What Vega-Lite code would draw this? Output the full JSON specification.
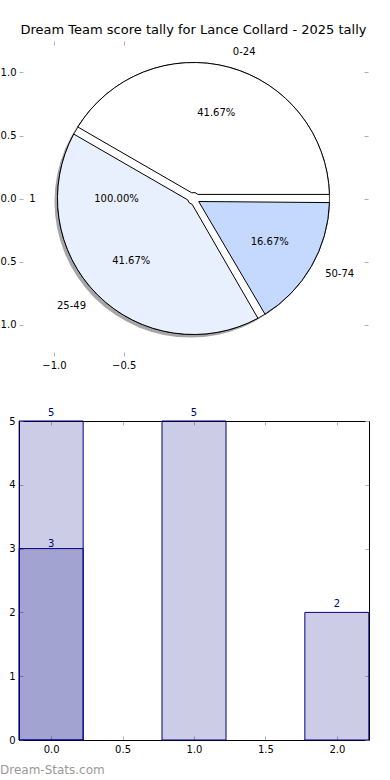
{
  "$schema": "https://vega.github.io/schema/vega-lite/v6.json",
  "background": "white",
  "padding": {"left": 0, "top": 23, "right": 0, "bottom": 0},
  "spacing": 38,
  "datasets": {
    "pie": [
      {"band": "0-24", "count": 5, "pct": "41.67%"},
      {"band": "25-49", "count": 5, "pct": "41.67%"},
      {"band": "50-74", "count": 2, "pct": "16.67%"}
    ],
    "whole": [
      {"label": "1", "value": 1, "pct": "100.00%"}
    ],
    "bars": [
      {"series": "a", "x": 0, "count": 5},
      {"series": "a", "x": 1, "count": 5},
      {"series": "a", "x": 2, "count": 2},
      {"series": "b", "x": 0, "count": 3}
    ]
  },
  "vconcat": [
    {
      "width": 349,
      "height": 315,
      "title": {
        "text": "Dream Team score tally for Lance Collard - 2025 tally",
        "fontSize": 13,
        "fontWeight": "normal",
        "font": "DejaVu Sans",
        "color": "black",
        "anchor": "middle",
        "frame": "group",
        "offset": 4
      },
      "layer": [
        {
          "data": {"values": [{}]},
          "mark": {"type": "point", "opacity": 0},
          "encoding": {
            "x": {"datum": 0, "type": "quantitative",
              "scale": {"domain": [-1.25, 1.25], "nice": false, "zero": false},
              "axis": {"orient": "bottom", "values": [-1, -0.5], "format": ".1f", "domain": false, "title": null}},
            "y": {"datum": 0, "type": "quantitative",
              "scale": {"domain": [-1.25, 1.25], "nice": false, "zero": false},
              "axis": {"orient": "left", "values": [-1, -0.5, 0, 0.5, 1], "labelExpr": "format(abs(datum.value), '.1f')", "labelPadding": 7, "domain": false, "title": null}}
          }
        },
        {
          "data": {"values": [{}]},
          "mark": {"type": "point", "opacity": 0},
          "encoding": {
            "x": {"datum": 0, "type": "quantitative",
              "axis": {"orient": "top", "values": [-1, -0.5], "labels": false, "domain": false, "title": null}},
            "y": {"datum": 0, "type": "quantitative",
              "axis": {"orient": "right", "values": [-1, -0.5, 0, 0.5, 1], "labels": false, "domain": false, "title": null}}
          }
        },
        {
          "data": {"name": "whole"},
          "encoding": {
            "theta": {"field": "value", "type": "quantitative", "stack": true, "scale": {"range": [1.5708, -4.7124]}}
          },
          "layer": [
            {"mark": {"type": "arc", "outerRadius": 136, "fill": "#4d4d4d", "fillOpacity": 0.5, "xOffset": -3, "yOffset": 3}},
            {"mark": {"type": "arc", "outerRadius": 136, "fill": "white", "stroke": "black", "strokeWidth": 0.8}}
          ]
        },
        {
          "data": {"name": "pie"},
          "encoding": {
            "theta": {"field": "count", "type": "quantitative", "stack": true, "scale": {"range": [1.5708, -4.7124]}},
            "order": {"field": "band", "type": "ordinal"}
          },
          "layer": [
            {
              "mark": {"type": "arc", "outerRadius": 136, "innerRadius": 6, "padAngle": 0.06, "stroke": "black", "strokeWidth": 1},
              "encoding": {
                "color": {"field": "band", "type": "nominal",
                  "scale": {"domain": ["0-24", "25-49", "50-74"], "range": ["#ffffff", "#e9f0fd", "#c5d8fd"]},
                  "legend": null}
              }
            },
            {
              "mark": {"type": "text", "radius": 88, "fontSize": 10, "font": "DejaVu Sans"},
              "encoding": {"detail": {"field": "band"}, "text": {"field": "pct"}}
            },
            {
              "mark": {"type": "text", "radius": 152, "fontSize": 10, "font": "DejaVu Sans",
                "align": {"expr": "datum.band == '25-49' ? 'right' : 'left'"}},
              "encoding": {"detail": {"field": "band"}, "text": {"field": "band"}}
            }
          ]
        },
        {
          "data": {"name": "whole"},
          "encoding": {
            "theta": {"field": "value", "type": "quantitative", "stack": true, "scale": {"range": [1.5708, -4.7124]}}
          },
          "layer": [
            {"mark": {"type": "text", "radius": 77, "fontSize": 10, "font": "DejaVu Sans"}, "encoding": {"text": {"field": "pct"}}},
            {"mark": {"type": "text", "radius": 161, "fontSize": 10, "font": "DejaVu Sans"}, "encoding": {"text": {"field": "label"}}}
          ]
        }
      ],
      "resolve": {"scale": {"theta": "independent"}, "axis": {"x": "independent", "y": "independent"}}
    },
    {
      "width": 350,
      "height": 319,
      "data": {"name": "bars"},
      "title": {
        "text": "Dream-Stats.com",
        "orient": "bottom",
        "anchor": "start",
        "frame": "group",
        "fontSize": 12,
        "fontWeight": "normal",
        "font": "DejaVu Sans",
        "color": "#999999",
        "dx": -19,
        "offset": 11
      },
      "layer": [
        {
          "mark": {"type": "bar", "width": 64, "fill": "#000080", "fillOpacity": 0.2, "stroke": "#000080", "strokeWidth": 1},
          "encoding": {
            "x": {"field": "x", "type": "quantitative",
              "scale": {"domain": [-0.225, 2.225], "nice": false, "zero": false, "padding": 0},
              "axis": {"orient": "bottom", "values": [0, 0.5, 1, 1.5, 2], "format": ".1f", "domainColor": "black", "title": null}},
            "y": {"field": "count", "type": "quantitative", "stack": null,
              "scale": {"domain": [0, 5], "nice": false, "padding": 0},
              "axis": {"orient": "left", "values": [0, 1, 2, 3, 4, 5], "domainColor": "black", "title": null}}
          }
        },
        {
          "transform": [{"filter": "datum.series == 'a'"}],
          "mark": {"type": "text", "fontSize": 10, "font": "DejaVu Sans", "color": "#000080", "baseline": "alphabetic", "dy": -5},
          "encoding": {
            "x": {"field": "x", "type": "quantitative", "axis": null},
            "y": {"field": "count", "type": "quantitative", "stack": null, "axis": null},
            "text": {"field": "count", "type": "quantitative"}
          }
        },
        {
          "transform": [{"filter": "datum.series == 'b'"}],
          "mark": {"type": "text", "fontSize": 10, "font": "DejaVu Sans", "color": "#000080", "baseline": "alphabetic", "dy": -2},
          "encoding": {
            "x": {"field": "x", "type": "quantitative", "axis": null},
            "y": {"field": "count", "type": "quantitative", "stack": null, "axis": null},
            "text": {"field": "count", "type": "quantitative"}
          }
        },
        {
          "mark": {"type": "point", "opacity": 0},
          "encoding": {
            "x": {"field": "x", "type": "quantitative",
              "axis": {"orient": "top", "values": [0, 0.5, 1, 1.5, 2], "labels": false, "domainColor": "black", "title": null}},
            "y": {"field": "count", "type": "quantitative", "stack": null,
              "axis": {"orient": "right", "values": [0, 1, 2, 3, 4, 5], "labels": false, "domainColor": "black", "title": null}}
          }
        }
      ],
      "resolve": {"axis": {"x": "independent", "y": "independent"}}
    }
  ],
  "config": {
    "view": {"stroke": null},
    "font": "DejaVu Sans",
    "axis": {
      "grid": false,
      "labelFont": "DejaVu Sans",
      "labelFontSize": 10,
      "labelColor": "black",
      "tickColor": "#b0b0b0",
      "tickSize": -4,
      "labelPadding": 8
    }
  }
}
